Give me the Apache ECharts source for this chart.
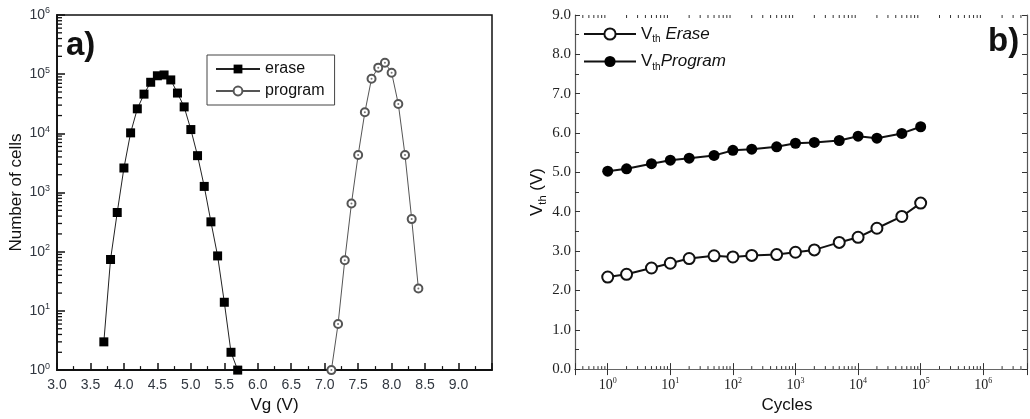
<!DOCTYPE html>
<html><head><meta charset="utf-8">
<script src="https://cdn.jsdelivr.net/npm/echarts@6/dist/echarts.min.js"></script>
<style>html,body{margin:0;padding:0;background:#fff}#c{width:1030px;height:419px}</style>
</head><body><div id="c"></div>
<script>
// ---- data (a) ----
const vgErase = [3.7,3.8,3.9,4.0,4.1,4.2,4.3,4.4,4.5,4.6,4.7,4.8,4.9,5.0,5.1,5.2,5.3,5.4,5.5,5.6,5.7];
const cellsErase = [3,74,460,2600,10200,26000,46000,73000,94000,97000,80000,48000,28000,11600,4200,1270,320,85,14,2,1];
const vgProgram = [7.1,7.2,7.3,7.4,7.5,7.6,7.7,7.8,7.9,8.0,8.1,8.2,8.3,8.4];
const cellsProgram = [1,6,72,655,4300,22700,84000,129000,156000,106000,31400,4300,356,24];
// ---- data (b) ----
const cycles = [1,2,5,10,20,50,100,200,500,1000,2000,5000,10000,20000,50000,100000];
const vthErase = [2.34,2.41,2.57,2.69,2.81,2.88,2.85,2.89,2.91,2.97,3.03,3.22,3.35,3.58,3.88,4.22];
const vthProgram = [5.03,5.09,5.22,5.31,5.36,5.43,5.56,5.59,5.65,5.74,5.76,5.81,5.92,5.87,5.99,6.16];
const labelsA = ['a)','b)'];

function zip(a,b){return a.map((v,i)=>[v,b[i]]);}
function minorLog(e0,e1,lo,hi){const o=[];for(let e=e0;e<=e1;e++)for(let m=2;m<=9;m++){const v=m*Math.pow(10,e);if(v>lo*1.0001&&v<hi*0.9999)o.push(v);}return o;}
function supLabel(v){const e=Math.log10(v);if(Math.abs(e-Math.round(e))>1e-6)return '';return '{b|10}{s|'+Math.round(e)+'}';}

const sans='Liberation Sans, Arial, sans-serif';
const serif='Liberation Serif, Times New Roman, serif';
const labA='#30363f';

const chart=echarts.init(document.getElementById('c'),null,{renderer:'canvas'});
chart.setOption({
  animation:false,
  backgroundColor:'#fff',
  title:[
    {text:labelsA[0],left:66,top:29,padding:0,textStyle:{fontSize:33,fontWeight:'bold',fontFamily:sans,color:'#111'}},
    {text:labelsA[1],left:988,top:25,padding:0,textStyle:{fontSize:33,fontWeight:'bold',fontFamily:sans,color:'#111'}}
  ],
  legend:[
    {data:['erase','program'],orient:'vertical',left:207,top:55,padding:[6,10,6,8],itemGap:6,itemWidth:44,itemHeight:11,
     borderColor:'#444',borderWidth:1,textStyle:{fontSize:16,fontFamily:sans,color:'#111'}},
    {data:['Vth Erase','Vth Program'],orient:'vertical',left:583,top:24,padding:0,itemGap:7,itemWidth:52,itemHeight:14,
     formatter:n=>n==='Vth Erase'?'{v|V}{sub|th} {it|Erase}':'{v|V}{sub|th}{it|Program}',
     textStyle:{fontSize:17,fontFamily:sans,color:'#111',lineHeight:20,rich:{
       v:{fontSize:17,fontFamily:sans,color:'#111'},
       sub:{fontSize:10,fontFamily:sans,color:'#111',padding:[11,0,0,0]},
       it:{fontSize:17,fontFamily:sans,fontStyle:'italic',color:'#111'}}}}
  ],
  grid:[
    {left:57,top:15,width:435,height:356,show:true,borderColor:'#111',borderWidth:1.5},
    {left:575,top:15,width:457,height:359}
  ],
  xAxis:[
    {type:'value',gridIndex:0,min:3,max:9.5,interval:0.5,
     axisLine:{lineStyle:{color:'#111',width:1.8}},
     axisTick:{inside:true,length:7,lineStyle:{color:'#111',width:1.5}},
     minorTick:{show:true,splitNumber:2,length:4,lineStyle:{color:'#111',width:1.2}},
     splitLine:{show:false},
     axisLabel:{formatter:v=>v>9.01?'':v.toFixed(1),fontSize:14,fontFamily:sans,color:labA,margin:8},
     name:'Vg (V)',nameLocation:'middle',nameGap:25,nameTextStyle:{fontSize:17,fontFamily:sans,color:'#111'}},
    {type:'log',gridIndex:1,min:0.3,max:5e6,logBase:10,splitNumber:7,
     axisLine:{lineStyle:{color:'#555',width:1.2}},
     axisTick:{inside:true,length:6,lineStyle:{color:'#333'}},
     splitLine:{show:false},
     axisLabel:{formatter:supLabel,margin:8,color:'#222',
       rich:{b:{fontSize:14,fontFamily:serif,color:'#222'},s:{fontSize:8,fontFamily:serif,color:'#222',verticalAlign:'top',padding:[0,0,8,0]}}},
     name:'Cycles',nameLocation:'middle',nameGap:24,nameTextStyle:{fontSize:17,fontFamily:sans,color:'#111',padding:[0,28,0,0]}},
    {type:'log',gridIndex:1,position:'top',min:0.3,max:5e6,logBase:10,splitNumber:7,
     axisLine:{lineStyle:{color:'#666',width:1.2}},
     axisTick:{inside:true,length:6,lineStyle:{color:'#333'}},
     splitLine:{show:false},axisLabel:{show:false}}
  ],
  yAxis:[
    {type:'log',gridIndex:0,min:1,max:1e6,logBase:10,splitNumber:6,
     axisLine:{lineStyle:{color:'#111',width:1.8}},
     axisTick:{inside:true,length:8,lineStyle:{color:'#111',width:1.5}},
     splitLine:{show:false},
     axisLabel:{formatter:supLabel,margin:7,
       rich:{b:{fontSize:14,fontFamily:sans,color:labA},s:{fontSize:9,fontFamily:sans,color:labA,verticalAlign:'top',padding:[0,0,8,0]}}},
     name:'Number of cells',nameLocation:'middle',nameGap:32,nameTextStyle:{fontSize:17,fontFamily:sans,color:'#111'}},
    {type:'value',gridIndex:1,min:0,max:9,interval:1,
     axisLine:{lineStyle:{color:'#555',width:1.2}},
     axisTick:{inside:true,length:5,lineStyle:{color:'#333'}},
     minorTick:{show:true,splitNumber:2,length:4,lineStyle:{color:'#333'}},
     splitLine:{show:false},
     axisLabel:{formatter:v=>v.toFixed(1),fontSize:15,fontFamily:serif,color:'#222',margin:4},
     name:'{v|V}{sub|th}{v| (V)}',nameLocation:'middle',nameGap:26,
     nameTextStyle:{fontSize:17,fontFamily:sans,color:'#111',rich:{
       v:{fontSize:17,fontFamily:sans,color:'#111'},
       sub:{fontSize:11,fontFamily:sans,color:'#111',padding:[11,0,0,0]}}}},
    {type:'value',gridIndex:1,position:'right',min:0,max:9,interval:1,
     axisLine:{lineStyle:{color:'#555',width:1.2}},
     axisTick:{inside:true,length:5,lineStyle:{color:'#333'}},
     minorTick:{show:true,splitNumber:2,length:4,lineStyle:{color:'#333'}},
     splitLine:{show:false},axisLabel:{show:false}}
  ],
  series:[
    {type:'custom',xAxisIndex:0,yAxisIndex:0,silent:true,clip:false,z:5,
     data:minorLog(0,5,1,1e6).map(v=>[3,v]),
     renderItem:(p,api)=>{const c=api.coord([api.value(0),api.value(1)]);
       return {type:'line',shape:{x1:c[0],y1:c[1],x2:c[0]+5,y2:c[1]},style:{stroke:'#111',lineWidth:1.3}};}},
    {type:'custom',xAxisIndex:1,yAxisIndex:1,silent:true,clip:false,z:5,
     data:minorLog(-1,6,0.3,5e6).map(v=>[v,0]),
     renderItem:(p,api)=>{const a=api.coord([api.value(0),0]);const b=api.coord([api.value(0),9]);
       return {type:'group',children:[
         {type:'line',shape:{x1:a[0],y1:a[1],x2:a[0],y2:a[1]-3},style:{stroke:'#333',lineWidth:1}},
         {type:'line',shape:{x1:b[0],y1:b[1],x2:b[0],y2:b[1]+3},style:{stroke:'#333',lineWidth:1}}]};}},
    {name:'erase',type:'line',xAxisIndex:0,yAxisIndex:0,data:zip(vgErase,cellsErase),
     symbol:'rect',symbolSize:9,lineStyle:{color:'#222',width:1},itemStyle:{color:'#000'},z:3},
    {name:'program',type:'line',xAxisIndex:0,yAxisIndex:0,data:zip(vgProgram,cellsProgram),
     symbol:'emptyCircle',symbolSize:8,lineStyle:{color:'#555',width:1},itemStyle:{color:'#555',borderWidth:1},z:3},
    {name:'program dot',type:'scatter',xAxisIndex:0,yAxisIndex:0,data:zip(vgProgram,cellsProgram),
     symbol:'circle',symbolSize:2,itemStyle:{color:'#555'},silent:true,z:4},
    {name:'Vth Erase',type:'line',xAxisIndex:1,yAxisIndex:1,data:zip(cycles,vthErase),
     symbol:'emptyCircle',symbolSize:11,lineStyle:{color:'#111',width:2},itemStyle:{color:'#111',borderWidth:1.5},z:3},
    {name:'Vth Program',type:'line',xAxisIndex:1,yAxisIndex:1,data:zip(cycles,vthProgram),
     symbol:'circle',symbolSize:11,lineStyle:{color:'#111',width:2},itemStyle:{color:'#000'},z:3}
  ]
});
</script></body></html>
